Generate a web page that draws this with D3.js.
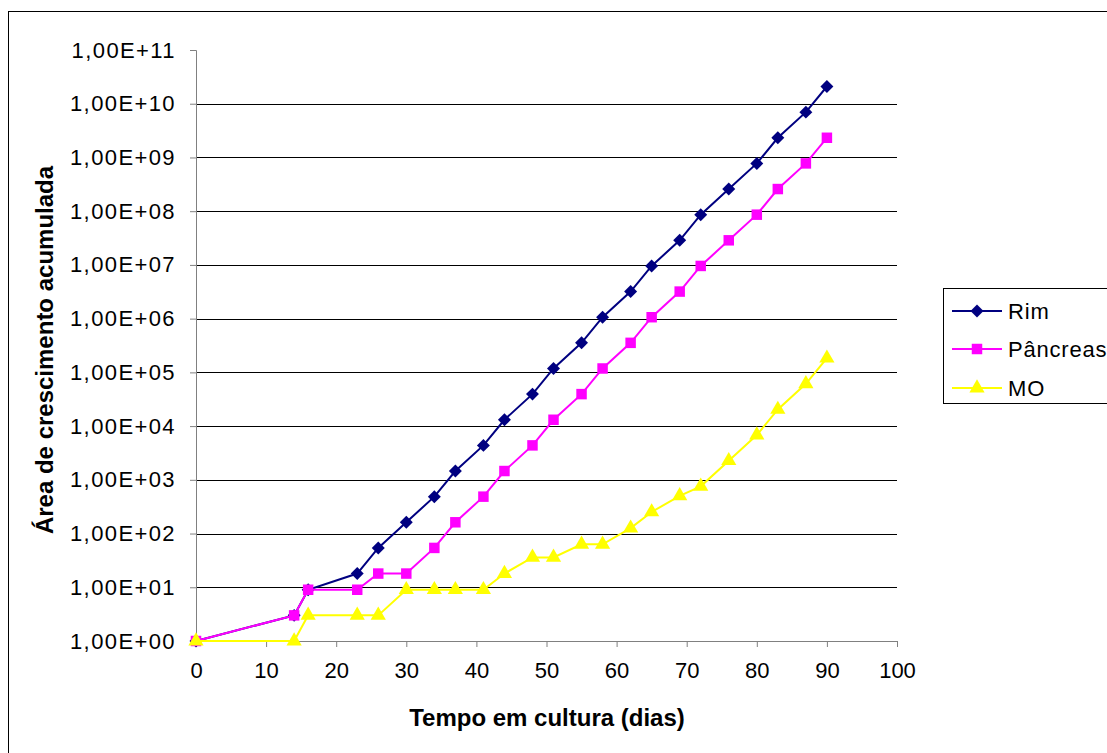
<!DOCTYPE html>
<html>
<head>
<meta charset="utf-8">
<script src="https://cdn.jsdelivr.net/npm/d3@7"></script>
<style>
  html, body { margin: 0; padding: 0; background: #fff; }
  svg { display: block; }
  text { font-family: Arial, "Liberation Sans", sans-serif; fill: #000; }
</style>
</head>
<body>
<svg id="chart" width="1107" height="753"></svg>
<script>
// ---- data ----
const days = [0, 14, 16, 23, 26, 30, 34, 37, 41, 44, 48, 51, 55, 58, 62, 65, 69, 72, 76, 80, 83, 87, 90];
const rim = [1, 3, 9, 18, 54, 162, 486, 1458, 4374, 13122, 39366, 118098, 354294, 1062882, 3188646,
  9565938, 28697814, 86093442, 258280326, 774840978, 2324522934, 6973568802, 20920706406];
const pancreas = [1, 3, 9, 9, 18, 18, 54, 162, 486, 1458, 4374, 13122, 39366, 118098, 354294,
  1062882, 3188646, 9565938, 28697814, 86093442, 258280326, 774840978, 2324522934];
const mo = [1, 1, 3, 3, 3, 9, 9, 9, 9, 18, 36, 36, 63, 63, 126, 252, 504, 756, 2268, 6804,
  20412, 61236, 183708];
const seriesNames = ["Rim", "Pâncreas", "MO"];
const xTicks = [0, 10, 20, 30, 40, 50, 60, 70, 80, 90, 100];
const yTicks = [1e0, 1e1, 1e2, 1e3, 1e4, 1e5, 1e6, 1e7, 1e8, 1e9, 1e10, 1e11];
const yTickLabels = ["1,00E+00", "1,00E+01", "1,00E+02", "1,00E+03", "1,00E+04", "1,00E+05",
  "1,00E+06", "1,00E+07", "1,00E+08", "1,00E+09", "1,00E+10", "1,00E+11"];
const xTitle = "Tempo em cultura (dias)";
const yTitle = "Área de crescimento acumulada";

const series = [
  { name: seriesNames[0], values: rim, color: "#000080", symbol: d3.symbolSquare, size: 84, rot: 45 },
  { name: seriesNames[1], values: pancreas, color: "#FF00FF", symbol: d3.symbolSquare, size: 110, rot: 0 },
  { name: seriesNames[2], values: mo, color: "#FFFF00", symbol: d3.symbolTriangle, size: 100, rot: 0 }
];

const svg = d3.select("#chart");

// outer chart border
svg.append("rect").attr("x", 8.5).attr("y", 11.5).attr("width", 1120).attr("height", 760)
  .attr("fill", "#fff").attr("stroke", "#000").attr("stroke-width", 1);

const x = d3.scaleLinear().domain([0, 100]).range([196, 897]);
const y = d3.scaleLog().domain([1, 1e11]).range([641, 50]);

// gridlines
svg.append("g").selectAll("line").data(yTicks.slice(1, -1)).join("line")
  .attr("x1", x(0)).attr("x2", x(100))
  .attr("y1", d => Math.round(y(d)) + 0.5).attr("y2", d => Math.round(y(d)) + 0.5)
  .attr("stroke", "#000").attr("stroke-width", 1);

// y axis
const yAxis = d3.axisLeft(y).tickValues(yTicks).tickSize(6).tickPadding(14)
  .tickFormat((d, i) => yTickLabels[i]);
const gy = svg.append("g").attr("transform", `translate(${x(0)},0)`).call(yAxis);
gy.select(".domain").attr("stroke", "#808080");
gy.selectAll(".tick line").attr("stroke", "#808080");
gy.selectAll(".tick text").attr("font-size", 22).style("letter-spacing", "1.4px")
  .style("font-family", "Arial, 'Liberation Sans', sans-serif").attr("fill", "#000");

// x axis
const xAxis = d3.axisBottom(x).tickValues(xTicks).tickSize(6).tickPadding(15).tickFormat(d3.format("d"));
const gx = svg.append("g").attr("transform", `translate(0,${y(1)})`).call(xAxis);
gx.select(".domain").attr("stroke", "#808080");
gx.selectAll(".tick line").attr("stroke", "#808080");
gx.selectAll(".tick text").attr("font-size", 22).style("font-family", "Arial, 'Liberation Sans', sans-serif").attr("fill", "#000");

// titles
svg.append("text").attr("x", 547).attr("y", 726).attr("text-anchor", "middle")
  .attr("font-size", 24).attr("font-weight", "bold").text(xTitle);
svg.append("text").attr("transform", "translate(53,350) rotate(-90)").attr("text-anchor", "middle")
  .attr("font-size", 24).attr("font-weight", "bold").text(yTitle);

// series
const line = d3.line().x((d, i) => x(days[i])).y(d => y(d));
series.forEach(s => {
  const g = svg.append("g");
  g.append("path").datum(s.values).attr("d", line)
    .attr("fill", "none").attr("stroke", s.color).attr("stroke-width", 2);
  g.selectAll("path.m").data(s.values).join("path").attr("class", "m")
    .attr("transform", (d, i) => `translate(${x(days[i])},${y(d)}) rotate(${s.rot})`)
    .attr("d", d3.symbol().type(s.symbol).size(s.size)())
    .attr("fill", s.color);
});

// legend
const lg = svg.append("g");
lg.append("rect").attr("x", 943.5).attr("y", 288.5).attr("width", 200).attr("height", 115)
  .attr("fill", "#fff").attr("stroke", "#000").attr("stroke-width", 1);
const rowsY = [311, 349, 388];
series.forEach((s, i) => {
  lg.append("line").attr("x1", 952).attr("x2", 1002).attr("y1", rowsY[i]).attr("y2", rowsY[i])
    .attr("stroke", s.color).attr("stroke-width", 2);
  lg.append("path").attr("transform", `translate(977,${rowsY[i]}) rotate(${s.rot})`)
    .attr("d", d3.symbol().type(s.symbol).size(s.size)()).attr("fill", s.color);
  lg.append("text").attr("x", 1008).attr("y", rowsY[i]).attr("dy", "0.36em")
    .attr("font-size", 22).style("letter-spacing", "0.8px").text(s.name);
});
</script>
</body>
</html>
